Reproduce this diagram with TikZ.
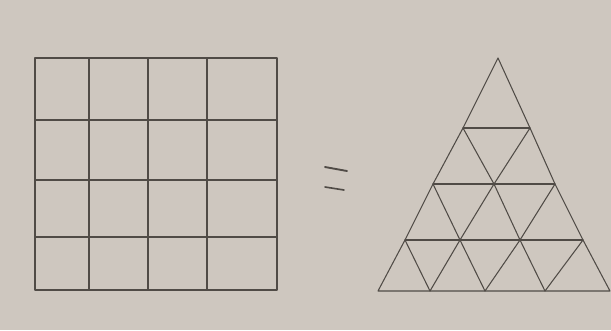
\documentclass[tikz,border=0pt]{standalone}
\definecolor{paper}{RGB}{206,199,191}
\definecolor{pencil}{RGB}{80,75,70}
\tikzset{pencil/.style={draw=pencil,line width=0.9pt,line cap=round,line join=round}}
\begin{document}
\begin{tikzpicture}[x=0.03cm,y=-0.03cm]
	\fill[paper] (0,0) rectangle (611,330);
	\useasboundingbox (0,0) rectangle (611,330);
	%%%%%%%% square
	\def\sqleft{35}
	\def\sqtop{58}
	\def\sqright{277}
	\def\sqbottom{290}
	\draw[pencil] (\sqleft,\sqtop) rectangle (\sqright,\sqbottom);
	\foreach \x in {89,148,207}
		\draw[pencil] (\x,\sqtop) -- (\x,\sqbottom);
	\foreach \y in {120,180,237}
		\draw[pencil] (\sqleft,\y) -- (\sqright,\y);
	%%%%%%%% equals
	\draw[pencil,line width=1.6pt] (325,167) -- (347,171);
	\draw[pencil,line width=1.4pt] (325,187) -- (344,190);
	%%%%%%%% triangle, row by row
	\coordinate (t-0-0) at (498,58);
	\foreach \j/\x in {0/463,1/530}
		\coordinate (t-1-\j) at (\x,128);
	\foreach \j/\x in {0/433,1/494,2/555}
		\coordinate (t-2-\j) at (\x,184);
	\foreach \j/\x in {0/405,1/460,2/520,3/583}
		\coordinate (t-3-\j) at (\x,240);
	\foreach \j/\x in {0/378,1/430,2/485,3/545,4/610}
		\coordinate (t-4-\j) at (\x,291);
	% outline
	\draw[pencil] (t-0-0) -- (t-1-0) -- (t-2-0) -- (t-3-0) -- (t-4-0)
		-- (t-4-4) -- (t-3-3) -- (t-2-2) -- (t-1-1) -- cycle;
	% rows
	\draw[pencil] (t-1-0) -- (t-1-1);
	\draw[pencil] (t-2-0) -- (t-2-2);
	\draw[pencil] (t-3-0) -- (t-3-3);
	% parallel to the left side
	\draw[pencil] (t-1-1) -- (t-2-1) -- (t-3-1) -- (t-4-1);
	\draw[pencil] (t-2-2) -- (t-3-2) -- (t-4-2);
	\draw[pencil] (t-3-3) -- (t-4-3);
	% parallel to the right side
	\draw[pencil] (t-1-0) -- (t-2-1) -- (t-3-2) -- (t-4-3);
	\draw[pencil] (t-2-0) -- (t-3-1) -- (t-4-2);
	\draw[pencil] (t-3-0) -- (t-4-1);
\end{tikzpicture}
\end{document}
